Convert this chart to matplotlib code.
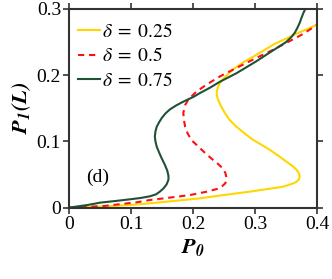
import matplotlib
matplotlib.use("Agg")
import matplotlib.pyplot as plt

plt.rcParams["font.family"] = ["Liberation Serif", "DejaVu Serif"]
plt.rcParams["mathtext.fontset"] = "stix"

# curves as (P0, P1(L)) pairs
p0_d025 = [0, 0.05, 0.10, 0.13, 0.18, 0.211, 0.25, 0.291, 0.32, 0.345, 0.360, 0.367,
           0.371, 0.372, 0.370, 0.367, 0.360, 0.351, 0.338, 0.324, 0.310, 0.297, 0.283,
           0.270, 0.259, 0.251, 0.245, 0.240, 0.238, 0.238, 0.240, 0.243, 0.251, 0.265,
           0.280, 0.297, 0.315, 0.333, 0.352, 0.370, 0.385, 0.400]
p1_d025 = [0, 0.0015, 0.004, 0.0064, 0.011, 0.014, 0.019, 0.024, 0.028, 0.0315, 0.036, 0.039,
           0.043, 0.048, 0.053, 0.057, 0.063, 0.069, 0.078, 0.087, 0.095, 0.102, 0.112,
           0.122, 0.132, 0.143, 0.153, 0.163, 0.170, 0.175, 0.182, 0.188, 0.197, 0.209,
           0.219, 0.228, 0.238, 0.248, 0.256, 0.264, 0.270, 0.276]

p0_d05 = [0, 0.055, 0.109, 0.130, 0.162, 0.195, 0.222, 0.238, 0.246, 0.252, 0.254, 0.252,
          0.248, 0.240, 0.232, 0.222, 0.214, 0.205, 0.197, 0.191, 0.187, 0.185, 0.184,
          0.187, 0.192, 0.205, 0.222, 0.243, 0.270, 0.302, 0.324, 0.351, 0.377, 0.400]
p1_d05 = [0, 0.0023, 0.008, 0.0114, 0.015, 0.019, 0.024, 0.028, 0.0315, 0.037, 0.044, 0.052,
          0.059, 0.066, 0.072, 0.080, 0.087, 0.095, 0.102, 0.112, 0.122, 0.132, 0.143,
          0.155, 0.163, 0.175, 0.186, 0.198, 0.211, 0.226, 0.236, 0.249, 0.262, 0.276]

p0_d075 = [0, 0.03, 0.05, 0.075, 0.098, 0.115, 0.130, 0.140, 0.146, 0.152, 0.157, 0.160,
           0.160, 0.158, 0.154, 0.149, 0.145, 0.141, 0.139, 0.138, 0.139, 0.141, 0.145,
           0.149, 0.155, 0.162, 0.172, 0.184, 0.200, 0.211, 0.227, 0.243, 0.270, 0.302,
           0.320, 0.340, 0.350, 0.358, 0.364, 0.368, 0.372, 0.375, 0.378, 0.381]
p1_d075 = [0, 0.004, 0.0075, 0.010, 0.0125, 0.0145, 0.017, 0.020, 0.024, 0.029, 0.035, 0.042,
           0.048, 0.056, 0.065, 0.0745, 0.083, 0.092, 0.100, 0.107, 0.115, 0.122, 0.129,
           0.135, 0.142, 0.148, 0.154, 0.160, 0.167, 0.173, 0.181, 0.190, 0.203, 0.221,
           0.232, 0.244, 0.250, 0.257, 0.264, 0.271, 0.279, 0.287, 0.294, 0.300]

labels = [r"$\delta\;=\;0.25$", r"$\delta\;=\;0.5$", r"$\delta\;=\;0.75$"]

fig = plt.figure(figsize=(3.32, 2.79), dpi=100)
ax = fig.add_axes([0.209, 0.256, 0.746, 0.712])

ax.plot(p0_d025, p1_d025, color="#FFD700", lw=1.5, label=labels[0])
ax.plot(p0_d05, p1_d05, color="#FF1010", lw=1.5, ls=(0, (3, 2.3)), label=labels[1])
ax.plot(p0_d075, p1_d075, color="#1F5235", lw=1.5, label=labels[2])

ax.set_xlim(0, 0.4)
ax.set_ylim(0, 0.3)
ax.set_xticks([0, 0.1, 0.2, 0.3, 0.4])
ax.set_xticklabels(["0", "0.1", "0.2", "0.3", "0.4"])
ax.set_yticks([0, 0.1, 0.2, 0.3])
ax.set_yticklabels(["0", "0.1", "0.2", "0.3"])
ax.tick_params(direction="out", top=True, right=True, labeltop=False, labelright=False,
               labelsize=14, length=4, width=1.2, color="#333333", pad=2)
for s in ax.spines.values():
    s.set_linewidth(1.5)
    s.set_color("#333333")

ax.set_xlabel(r"$\mathbfit{P_0}$", fontsize=16, labelpad=3)
ax.set_ylabel(r"$\mathbfit{P_1(L)}$", fontsize=16, labelpad=3)

ax.text(0.045, 0.046, "(d)", fontsize=14, ha="center", va="center")

ax.legend(loc="upper left", bbox_to_anchor=(0, 0.975), frameon=False, fontsize=14,
          handlelength=1.15, handletextpad=0.1, labelspacing=0.35,
          borderaxespad=0, borderpad=0.45)

fig.savefig("out.png", dpi=100)
